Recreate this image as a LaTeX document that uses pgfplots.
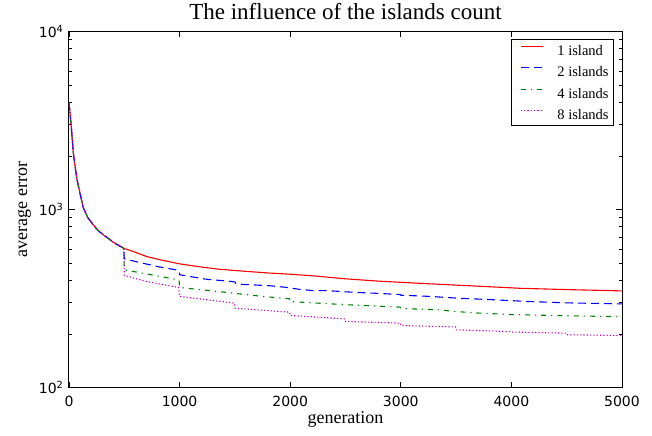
\documentclass[border=0pt]{standalone}
\usepackage{fontspec}
\setmainfont{Liberation Serif}
\newfontfamily\dejavu{DejaVu Sans}
\usepackage{pgfplots}
\pgfplotsset{compat=1.18}
\definecolor{mplgreen}{rgb}{0,0.5,0}
\definecolor{mplmag}{rgb}{0.75,0,0.75}
\begin{document}
\begin{tikzpicture}
\begin{axis}[
  name=ax,
  scale only axis, width=553pt, height=356pt,
  xmin=0, xmax=5000, ymin=100, ymax=10000, ymode=log,
  axis line style={line width=1pt},
  xtick={0,1000,2000,3000,4000,5000},
  xticklabels={0,1000,2000,3000,4000,5000},
  ytick={100,1000,10000},
  yticklabels={10\textsuperscript{2},10\textsuperscript{3},10\textsuperscript{4}},
  ticklabel style={font=\dejavu\fontsize{14}{16}\selectfont},
  xticklabel style={yshift=-5pt},
  yticklabel style={xshift=-2pt},
  tick align=inside, tick pos=both,
  major tick length=6pt, minor tick length=3pt,
  every tick/.style={black, line width=0.8pt},
  title={The influence of the islands count},
  title style={at={(axis description cs:0.5,1)}, anchor=base, yshift=6pt, font=\fontsize{23}{27}\selectfont},
  xlabel={generation},
  xlabel style={at={(axis description cs:0.5,0)}, anchor=base, yshift=-36pt, font=\fontsize{18}{21}\selectfont},
  ylabel={average error},
  ylabel style={at={(axis description cs:-0.0759,0.5)}, anchor=base, font=\fontsize{18}{21}\selectfont},
  legend cell align=left,
  legend image code/.code={\path (0pt,0pt); \draw[#1, line width=1.1pt, draw=.] (6pt,4pt) -- (28pt,4pt);},
  legend style={at={(rel axis cs:0.9855,0.979)}, anchor=north east, line width=0.8pt,
    font=\fontsize{14.5}{17}\selectfont, inner xsep=3pt, inner ysep=4pt,
    nodes={inner sep=2pt, text height=10pt, text depth=0pt},
    row sep=7.5pt,
    /tikz/every odd column/.append style={column sep=12pt}},
]
\addplot[color=red, line width=1.1pt] coordinates {
(0,4000) (10,3450) (25,2700) (40,2050) (70,1500) (100,1230) (130,1020) (170,900) (220,820) (260,765) (310,721) (360,685) (400,655) (450,628) (495,606)
(600,575) (700,545) (823,522) (1000,495) (1200,475) (1356,462) (1546,452) (1800,440) (2000,433) (2208,424) (2500,408) (2800,396) (3174,385) (3354,380) (3700,371) (4078,361) (4500,355) (5000,349)};
\addlegendentry{1 island}
\addplot[color=blue, line width=1.1pt, dash pattern=on 8pt off 5pt] coordinates {
(0,4000) (10,3450) (25,2700) (40,2050) (70,1500) (100,1230) (130,1020) (170,900) (220,820) (260,765) (310,721) (360,685) (400,655) (450,628) (495,606)
(500,528) (800,478) (995,455) (1000,430) (1250,405) (1426,397) (1500,392) (1510,383) (1561,380) (1817,373) (1953,366) (2073,357) (2209,350) (2344,350) (2465,346) (2601,342) (2752,339) (2872,336) (2993,333) (3000,330) (3113,328) (3264,325) (3500,318) (3800,312) (4168,304) (4500,299) (5000,295)};
\addlegendentry{2 islands}
\addplot[color=mplgreen, line width=1.1pt, dash pattern=on 5pt off 5pt on 1.2pt off 5pt] coordinates {
(0,4000) (10,3450) (25,2700) (40,2050) (70,1500) (100,1230) (130,1020) (170,900) (220,820) (260,765) (310,721) (360,685) (400,655) (450,628) (495,606)
(500,458) (700,435) (995,402) (1000,365) (1410,343) (1500,338) (1750,325) (1995,315) (2000,304) (2500,292) (2993,283) (3000,278) (3354,273) (3472,268) (3700,262) (4000,257) (4500,253) (5000,250)};
\addlegendentry{4 islands}
\addplot[color=mplmag, line width=1.1pt, dash pattern=on 1.2pt off 2.1pt] coordinates {
(0,4000) (10,3450) (25,2700) (40,2050) (70,1500) (100,1230) (130,1020) (170,900) (220,820) (260,765) (310,721) (360,685) (400,655) (450,628) (495,606)
(500,426) (702,394) (990,365) (1000,325) (1495,298) (1500,279) (1995,265) (2000,254) (2495,243) (2500,235) (2995,230) (3000,223) (3495,219) (3500,211) (3995,206) (4000,205) (4495,202) (4500,198) (5000,196)};
\addlegendentry{8 islands}
\end{axis}
\path (ax.south west) ++(-69pt,-47.5pt) coordinate (bl);
\path (ax.south west) ++(583pt,385.5pt) coordinate (tr);
\path (bl) rectangle (tr);
\end{tikzpicture}
\end{document}
